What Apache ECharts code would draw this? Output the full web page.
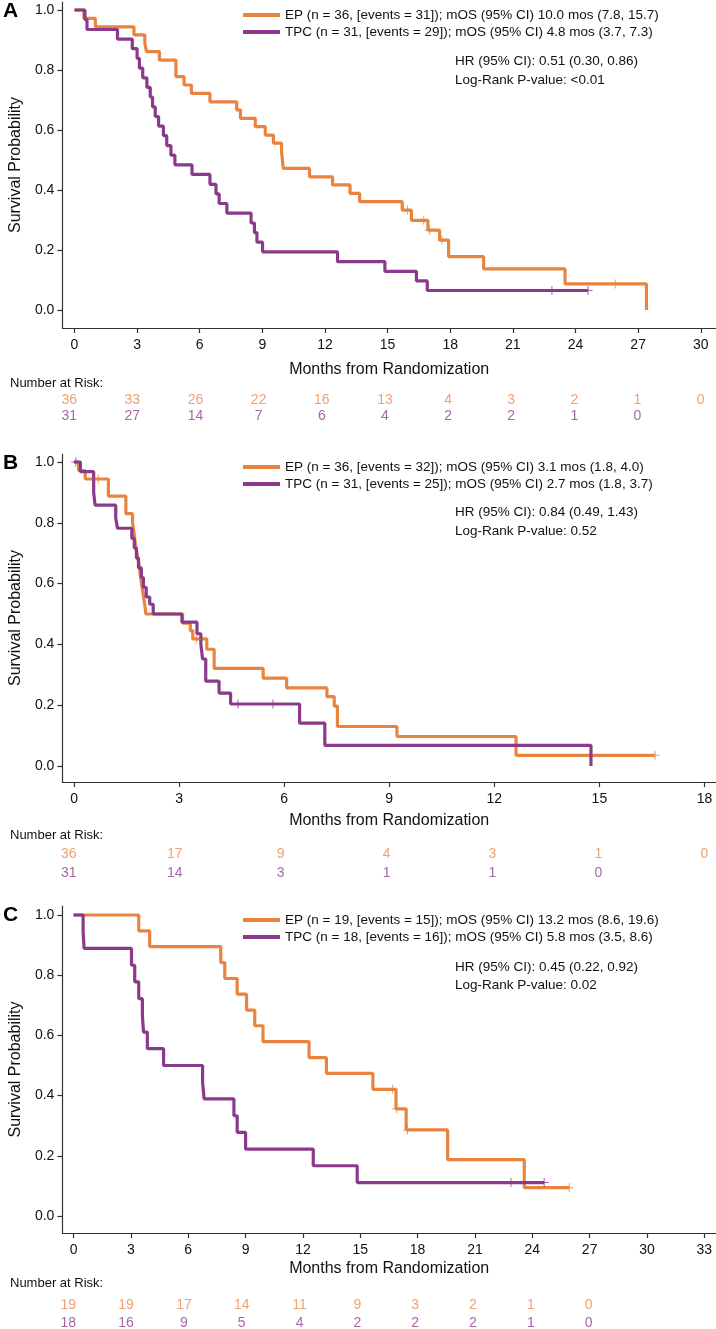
<!DOCTYPE html>
<html>
<head>
<meta charset="utf-8">
<title>Kaplan-Meier OS</title>
<script src="https://cdn.jsdelivr.net/npm/echarts@6.0.0/dist/echarts.min.js"></script>
<style>
html, body { margin: 0; padding: 0; background: #fff; }
#main { width: 716px; height: 1329px; }
</style>
</head>
<body>
<div id="main"></div>
<script>
// ---------- data ----------
// panel A
var epA_time = [0, 0.45, 1.0, 2.85, 3.37, 3.45, 4.07, 4.86, 5.25, 5.6, 6.49, 7.77, 7.95, 8.66, 9.14, 9.53, 9.92, 10.0, 11.26, 12.36, 13.2, 13.66, 15.7, 16.14, 16.93, 17.49, 17.92, 19.6, 23.5, 27.4];
var epA_surv = [1, 0.972, 0.944, 0.917, 0.889, 0.861, 0.833, 0.778, 0.75, 0.722, 0.694, 0.667, 0.639, 0.611, 0.583, 0.556, 0.528, 0.472, 0.444, 0.417, 0.389, 0.361, 0.333, 0.299, 0.266, 0.233, 0.178, 0.137, 0.087, 0];
var epA_censTime = [15.95, 16.73, 17.0, 17.6, 25.9];
var epA_censSurv = [0.333, 0.299, 0.266, 0.233, 0.087];
var tpcA_time = [0, 0.5, 0.6, 2.06, 2.77, 3.0, 3.11, 3.27, 3.47, 3.63, 3.74, 3.87, 4.03, 4.26, 4.42, 4.62, 4.81, 5.63, 6.49, 6.78, 6.93, 7.3, 8.46, 8.62, 8.74, 9.01, 12.6, 14.87, 16.38, 16.9, 24.6];
var tpcA_surv = [1, 0.968, 0.935, 0.903, 0.871, 0.839, 0.806, 0.774, 0.742, 0.71, 0.677, 0.645, 0.613, 0.581, 0.548, 0.516, 0.484, 0.452, 0.419, 0.387, 0.355, 0.323, 0.29, 0.258, 0.226, 0.194, 0.161, 0.129, 0.097, 0.065, 0.065];
var tpcA_censTime = [22.87, 24.6];
var tpcA_censSurv = [0.065, 0.065];

// panel B
var epB_time = [0, 0.13, 0.32, 0.98, 1.48, 1.67, 1.71, 1.74, 1.78, 1.83, 1.87, 1.90, 1.94, 1.98, 2.02, 2.05, 3.10, 3.32, 3.39, 3.79, 4.0, 5.4, 6.07, 7.22, 7.43, 7.52, 9.22, 12.62, 16.59];
var epB_surv = [1, 0.972, 0.944, 0.888, 0.83, 0.80, 0.77, 0.74, 0.71, 0.68, 0.65, 0.62, 0.59, 0.56, 0.53, 0.50, 0.47, 0.445, 0.418, 0.384, 0.321, 0.289, 0.257, 0.228, 0.197, 0.13, 0.097, 0.035, 0.035];
var epB_censTime = [0.69, 3.5, 16.59];
var epB_censSurv = [0.944, 0.418, 0.035];
var tpcB_time = [0, 0.18, 0.56, 0.6, 1.19, 1.24, 1.65, 1.72, 1.78, 1.84, 1.92, 1.98, 2.06, 2.16, 2.26, 3.08, 3.51, 3.62, 3.67, 3.76, 4.14, 4.47, 6.44, 7.16, 14.76];
var tpcB_surv = [1, 0.968, 0.9, 0.858, 0.815, 0.782, 0.749, 0.717, 0.684, 0.652, 0.62, 0.588, 0.556, 0.532, 0.5, 0.473, 0.435, 0.40, 0.352, 0.279, 0.24, 0.204, 0.141, 0.068, 0];
var tpcB_censTime = [0.05, 4.68, 5.68];
var tpcB_censSurv = [1.0, 0.204, 0.204];

// panel C
var epC_time = [0, 3.41, 3.98, 7.70, 7.91, 8.56, 9.05, 9.48, 9.91, 12.32, 13.23, 15.66, 16.87, 17.4, 19.57, 23.58, 25.93];
var epC_surv = [1, 0.947, 0.895, 0.842, 0.789, 0.737, 0.684, 0.632, 0.579, 0.526, 0.474, 0.421, 0.356, 0.286, 0.187, 0.094, 0.094];
var epC_censTime = [16.69, 16.9, 17.47, 25.93];
var epC_censSurv = [0.421, 0.356, 0.286, 0.094];
var tpcC_time = [0, 0.5, 0.55, 3.03, 3.2, 3.41, 3.6, 3.66, 3.86, 4.71, 6.75, 6.83, 8.39, 8.56, 9.0, 12.54, 14.84, 24.62];
var tpcC_surv = [1, 0.944, 0.889, 0.833, 0.778, 0.722, 0.667, 0.611, 0.556, 0.5, 0.444, 0.389, 0.333, 0.278, 0.222, 0.167, 0.111, 0.111];
var tpcC_censTime = [22.88, 24.62];
var tpcC_censSurv = [0.111, 0.111];

// number at risk
var riskA_time = [0, 3, 6, 9, 12, 15, 18, 21, 24, 27, 30];
var riskA_ep = [36, 33, 26, 22, 16, 13, 4, 3, 2, 1, 0];
var riskA_tpc = [31, 27, 14, 7, 6, 4, 2, 2, 1, 0];
var riskB_time = [0, 3, 6, 9, 12, 15, 18];
var riskB_ep = [36, 17, 9, 4, 3, 1, 0];
var riskB_tpc = [31, 14, 3, 1, 1, 0];
var riskC_time = [0, 3, 6, 9, 12, 15, 18, 21, 24, 27];
var riskC_ep = [19, 19, 17, 14, 11, 9, 3, 2, 1, 0];
var riskC_tpc = [18, 16, 9, 5, 4, 2, 2, 2, 1, 0];

// axis ticks
var xTicksA = [0, 3, 6, 9, 12, 15, 18, 21, 24, 27, 30];
var xTicksB = [0, 3, 6, 9, 12, 15, 18];
var xTicksC = [0, 3, 6, 9, 12, 15, 18, 21, 24, 27, 30, 33];
var yTicks = [0, 0.2, 0.4, 0.6, 0.8, 1.0];

// texts
var legendA = ['EP (n = 36, [events = 31]); mOS (95% CI) 10.0 mos (7.8, 15.7)', 'TPC (n = 31, [events = 29]); mOS (95% CI) 4.8 mos (3.7, 7.3)'];
var legendB = ['EP (n = 36, [events = 32]); mOS (95% CI) 3.1 mos (1.8, 4.0)', 'TPC (n = 31, [events = 25]); mOS (95% CI) 2.7 mos (1.8, 3.7)'];
var legendC = ['EP (n = 19, [events = 15]); mOS (95% CI) 13.2 mos (8.6, 19.6)', 'TPC (n = 18, [events = 16]); mOS (95% CI) 5.8 mos (3.5, 8.6)'];
var statsA = ['HR (95% CI): 0.51 (0.30, 0.86)', 'Log-Rank P-value: <0.01'];
var statsB = ['HR (95% CI): 0.84 (0.49, 1.43)', 'Log-Rank P-value: 0.52'];
var statsC = ['HR (95% CI): 0.45 (0.22, 0.92)', 'Log-Rank P-value: 0.02'];

// ---------- chart ----------
var FONT = '"Liberation Sans", Arial, sans-serif';
var ORANGE = '#E8843E';
var PURPLE = '#8B3A8B';
var ORANGE_TXT = '#EC8A50';
var PURPLE_TXT = '#93408F';
var AXIS = '#333';
var CROSS = 'path://M4,0L5,0L5,4L9,4L9,5L5,5L5,9L4,9L4,5L0,5L0,4L4,4Z';

function pairs(t, s) {
  return t.map(function (v, i) { return [v, s[i]]; });
}

var panels = [
  { letter: 'A', ep: [epA_time, epA_surv], tpc: [tpcA_time, tpcA_surv],
    epC: [epA_censTime, epA_censSurv], tpcC: [tpcA_censTime, tpcA_censSurv],
    rt: riskA_time, rep: riskA_ep, rtpc: riskA_tpc, ticks: xTicksA,
    legend: legendA, stats: statsA,
    top: 2, height: 326, ymin: -0.06, ymax: 1.0267, xmin: -0.58, xmax: 30.73,
    nameGap: 34, riskTop: 400, riskH: 16, legTop: 7, statY: [61, 80], letterY: 11, narY: 383 },
  { letter: 'B', ep: [epB_time, epB_surv], tpc: [tpcB_time, tpcB_surv],
    epC: [epB_censTime, epB_censSurv], tpcC: [tpcB_censTime, tpcB_censSurv],
    rt: riskB_time, rep: riskB_ep, rtpc: riskB_tpc, ticks: xTicksB,
    legend: legendB, stats: statsB,
    top: 454, height: 328, ymin: -0.0526, ymax: 1.0263, xmin: -0.334, xmax: 18.33,
    nameGap: 31, riskTop: 854, riskH: 19, legTop: 459, statY: [512, 531], letterY: 463, narY: 835 },
  { letter: 'C', ep: [epC_time, epC_surv], tpc: [tpcC_time, tpcC_surv],
    epC: [epC_censTime, epC_censSurv], tpcC: [tpcC_censTime, tpcC_censSurv],
    rt: riskC_time, rep: riskC_ep, rtpc: riskC_tpc, ticks: xTicksC,
    legend: legendC, stats: statsC,
    top: 906, height: 327, ymin: -0.0565, ymax: 1.0299, xmin: -0.586, xmax: 33.61,
    nameGap: 28, riskTop: 1305, riskH: 18, legTop: 912, statY: [967, 985], letterY: 915, narY: 1283 }
];

var grid = [], xAxis = [], yAxis = [], series = [], legend = [], graphic = [];

panels.forEach(function (p, i) {
  var g = i * 2, r = i * 2 + 1;
  grid.push({ left: 57, right: 0, top: p.top, height: p.height });
  grid.push({ left: 57, right: 0, top: p.riskTop, height: p.riskH });

  xAxis.push({
    type: 'value', gridIndex: g, min: p.xmin, max: p.xmax,
    name: 'Months from Randomization', nameLocation: 'middle', nameGap: p.nameGap,
    nameTextStyle: { fontFamily: FONT, fontSize: 16, color: '#111' },
    axisLine: { show: true, onZero: false, lineStyle: { color: AXIS, width: 1.2 } },
    axisTick: { show: true, length: 5, customValues: p.ticks, lineStyle: { color: AXIS, width: 1.2 } },
    axisLabel: { customValues: p.ticks, margin: 10, fontFamily: FONT, fontSize: 14, color: '#111' },
    splitLine: { show: false }
  });
  xAxis.push({ type: 'value', gridIndex: r, min: p.xmin, max: p.xmax, show: false });

  yAxis.push({
    type: 'value', gridIndex: g, min: p.ymin, max: p.ymax,
    name: 'Survival Probability', nameLocation: 'middle', nameGap: 38, nameRotate: 90,
    nameTextStyle: { fontFamily: FONT, fontSize: 16, color: '#111' },
    axisLine: { show: true, onZero: false, lineStyle: { color: AXIS, width: 1.2 } },
    axisTick: { show: true, length: 5, customValues: yTicks, lineStyle: { color: AXIS, width: 1.2 } },
    axisLabel: { customValues: yTicks, margin: 8, fontFamily: FONT, fontSize: 14, color: '#111',
      formatter: function (v) { return v.toFixed(1); } },
    splitLine: { show: false }
  });
  yAxis.push({ type: 'value', gridIndex: r, min: 0, max: 1, show: false });

  series.push({
    type: 'line', name: p.legend[0], xAxisIndex: g, yAxisIndex: g, step: 'end',
    data: pairs(p.ep[0], p.ep[1]), showSymbol: false, z: 2,
    lineStyle: { color: ORANGE, width: 3.2 }, itemStyle: { color: ORANGE }
  });
  series.push({
    type: 'line', name: p.legend[1], xAxisIndex: g, yAxisIndex: g, step: 'end',
    data: pairs(p.tpc[0], p.tpc[1]), showSymbol: false, z: 3,
    lineStyle: { color: PURPLE, width: 3.2 }, itemStyle: { color: PURPLE }
  });
  series.push({
    type: 'scatter', name: 'censEP' + p.letter, xAxisIndex: g, yAxisIndex: g,
    data: pairs(p.epC[0], p.epC[1]), symbol: CROSS, symbolSize: 9, z: 4,
    itemStyle: { color: ORANGE }
  });
  series.push({
    type: 'scatter', name: 'censTPC' + p.letter, xAxisIndex: g, yAxisIndex: g,
    data: pairs(p.tpcC[0], p.tpcC[1]), symbol: CROSS, symbolSize: 9, z: 4,
    itemStyle: { color: PURPLE }
  });
  // number at risk rows
  [[p.rep, 1, ORANGE_TXT], [p.rtpc, 0, PURPLE_TXT]].forEach(function (row) {
    series.push({
      type: 'scatter', xAxisIndex: r, yAxisIndex: r, symbolSize: 1,
      itemStyle: { color: 'rgba(0,0,0,0)' },
      data: row[0].map(function (n, k) { return [p.rt[k], row[1], n]; }),
      label: { show: true, position: 'inside', fontFamily: FONT, fontSize: 14, color: row[2],
        formatter: function (d) { return String(d.value[2]); } }
    });
  });

  legend.push({
    data: p.legend, orient: 'vertical', left: 243, top: p.legTop, padding: 0,
    icon: 'rect', itemWidth: 37, itemHeight: 4, itemGap: 1, selectedMode: false,
    textStyle: { fontFamily: FONT, fontSize: 13.5, color: '#111', lineHeight: 16 }
  });

  graphic.push({ type: 'text', left: 3, top: p.letterY - 10,
    style: { text: p.letter, font: 'bold 21px ' + FONT, fill: '#000' } });
  graphic.push({ type: 'text', x: 10, y: p.narY,
    style: { text: 'Number at Risk:', font: '13px ' + FONT, fill: '#111', textVerticalAlign: 'middle' } });
  p.stats.forEach(function (s, k) {
    graphic.push({ type: 'text', x: 455, y: p.statY[k],
      style: { text: s, font: '13.5px ' + FONT, fill: '#111', textVerticalAlign: 'middle' } });
  });
});

var chart = echarts.init(document.getElementById('main'), null, { renderer: 'canvas' });
chart.setOption({
  animation: false,
  backgroundColor: '#fff',
  grid: grid,
  xAxis: xAxis,
  yAxis: yAxis,
  legend: legend,
  graphic: graphic,
  series: series
});
</script>
</body>
</html>
